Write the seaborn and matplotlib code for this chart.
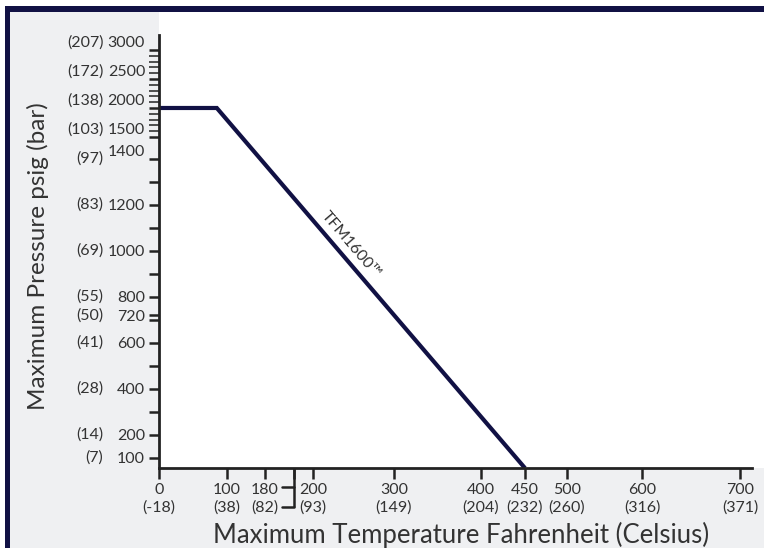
import numpy as np
import pandas as pd
import matplotlib
matplotlib.use("Agg")
import matplotlib.pyplot as plt
from matplotlib.patches import Rectangle
import seaborn as sns

# ---- data ----
temp_f = [0, 85, 450]
pressure_psi = [2000, 2000, 56]
series_name = "TFM1600™"

y_ticks = [100, 200, 400, 600, 720, 800, 1000, 1200, 1400, 1500, 2000, 2500, 3000]
y_bar = ["(7)", "(14)", "(28)", "(41)", "(50)", "(55)", "(69)", "(83)", "(97)",
         "(103)", "(138)", "(172)", "(207)"]
y_blank_ticks = [300, 500, 700, 900, 1100, 1300]
y_minor_ticks = [1600, 1700, 1800, 1900, 2100, 2200, 2300, 2400,
                 2600, 2700, 2800, 2900]

x_ticks = [0, 100, 180, 200, 300, 400, 450, 500, 600, 700]
x_celsius = ["(-18)", "(38)", "(82)", "(93)", "(149)", "(204)", "(232)",
             "(260)", "(316)", "(371)"]
x_bracket = 192

# ---- hand-drawn axis scales (piecewise linear) ----
XK = [-100, 0, 100, 180, 200, 300, 400, 450, 500, 600, 700, 800]
XU = [-68, 0, 68, 106, 154, 235, 322, 366, 408, 483, 581, 679]
YK = [-1000, 0, 1400, 1500, 3000, 5000]
YU = [-230, 0, 322, 344, 431, 547]

def fx(v): return np.interp(v, XK, XU)
def ifx(u): return np.interp(u, XU, XK)
def fy(v): return np.interp(v, YK, YU)
def ify(u): return np.interp(u, YU, YK)

sns.set_style("ticks")
plt.rcParams['font.family'] = ['Lato', 'DejaVu Sans']
txt = "#333333"
navy = "#111144"
axcol = "#222222"
fs = 11.5

fig = plt.figure(figsize=(7.64, 5.48), dpi=100, facecolor="white")
W, H = 764, 548
fig.patches.append(Rectangle((10 / W, 0), 1, 1 - 12 / H, transform=fig.transFigure,
                             facecolor="#eff0f2", edgecolor="none", zorder=-10))
fig.patches.append(Rectangle((5 / W, 0), 5 / W, 1 - 6 / H, transform=fig.transFigure,
                             facecolor=navy, edgecolor="none", zorder=-9))
fig.patches.append(Rectangle((5 / W, 1 - 12 / H), 1, 6 / H, transform=fig.transFigure,
                             facecolor=navy, edgecolor="none", zorder=-9))

ax = fig.add_axes([159 / W, 1 - 468 / H, 605 / W, 456 / H])
ax.set_facecolor("white")
ax.set_xscale("function", functions=(fx, ifx))
ax.set_yscale("function", functions=(fy, ify))

df = pd.DataFrame({"temp": temp_f, "psi": pressure_psi})
sns.lineplot(data=df, x="temp", y="psi", ax=ax, color=navy, linewidth=3.0,
             solid_capstyle="butt", solid_joinstyle="miter")

ax.set_xlim(0, 724.5)
ax.set_ylim(56.5, 3655)

for s in ["top", "right"]:
    ax.spines[s].set_visible(False)
ax.spines["left"].set_bounds(56.5, 3259)
ax.spines["bottom"].set_bounds(0, 712)
for s in ["left", "bottom"]:
    ax.spines[s].set_color(axcol)
    ax.spines[s].set_linewidth(2)

# y axis
yt = sorted(y_ticks + y_blank_ticks)
ax.set_yticks(yt)
ax.set_yticklabels([str(v) if v in y_ticks else "" for v in yt])
ax.set_yticks(y_minor_ticks, minor=True)
ax.tick_params(axis="y", which="major", direction="out", length=7, width=1.8,
               color=axcol, labelsize=fs, labelcolor=txt, pad=3)
ax.tick_params(axis="y", which="minor", direction="out", length=7, width=1.1,
               color=axcol)
for v, lab in zip(yt, ax.get_yticklabels()):
    if v >= 1400:
        lab.set_va("bottom")
ytrans = ax.get_yaxis_transform()
for v, b in zip(y_ticks, y_bar):
    ax.text(-0.092, v, b, transform=ytrans, ha="right",
            va="bottom" if v >= 1500 else "center", fontsize=fs, color=txt)

# x axis
ax.set_xticks(x_ticks + [x_bracket])
ax.set_xticklabels([f"{t}\n{c}" for t, c in zip(x_ticks, x_celsius)] + [""])
ax.tick_params(axis="x", direction="out", length=8, width=1.8, color=axcol,
               labelsize=fs, labelcolor=txt, pad=3)
for lab in ax.get_xticklabels():
    lab.set_linespacing(1.3)

# bracket joining the 180 label to its tick
xtrans = ax.get_xaxis_transform()
bh = 1 / 456
ax.plot([x_bracket, x_bracket], [0, -39 * bh], transform=xtrans, color=axcol,
        lw=1.8, clip_on=False, solid_capstyle="butt")
ax.plot([x_bracket - 5, x_bracket], [-19 * bh, -19 * bh], transform=xtrans,
        color=axcol, lw=1.8, clip_on=False)
ax.plot([x_bracket - 5, x_bracket], [-39 * bh, -39 * bh], transform=xtrans,
        color=axcol, lw=1.8, clip_on=False)

ax.set_xlabel("Maximum Temperature Fahrenheit (Celsius)", fontsize=18.5,
              color=txt, labelpad=5)
ax.set_ylabel("Maximum Pressure psig (bar)", fontsize=17.5, color=txt)
ax.yaxis.set_label_coords(-0.182, 0.465)

ax.text(246, 1025, series_name, rotation=-49.4, rotation_mode="anchor",
        ha="center", va="center", fontsize=11.5, color=txt)

fig.savefig("out.png", dpi=100, facecolor=fig.get_facecolor())
